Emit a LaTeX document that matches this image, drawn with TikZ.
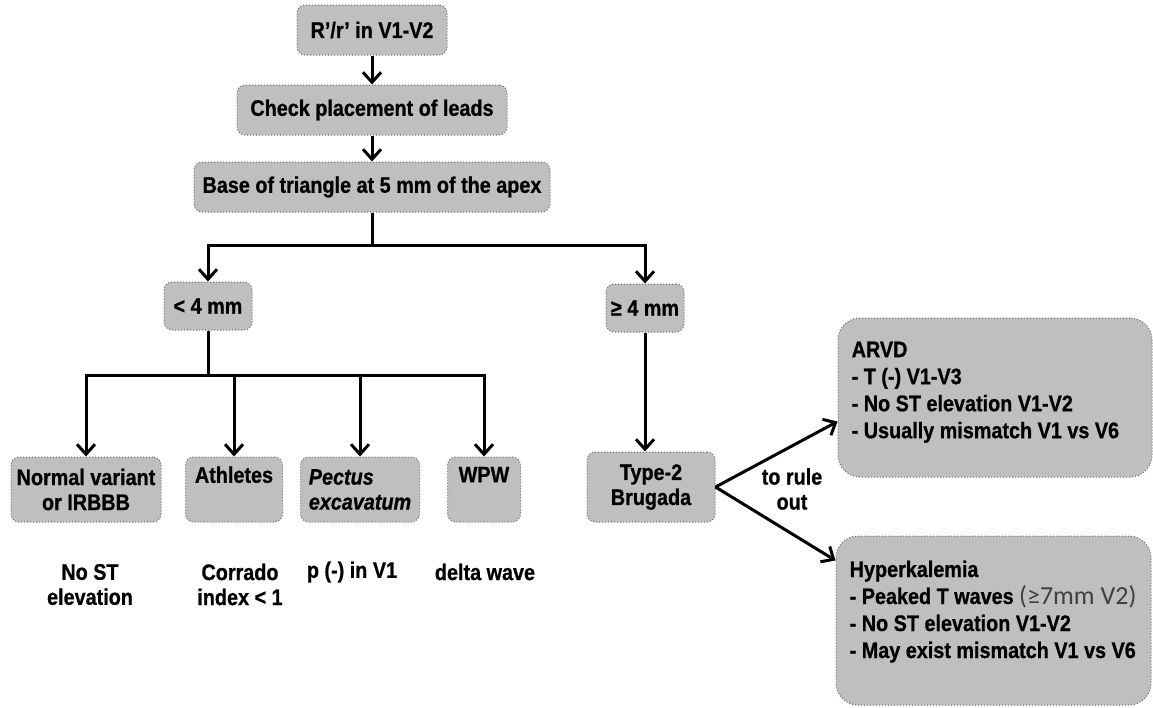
\documentclass[tikz,border=0pt]{standalone}
\usepackage{fontspec}
\setmainfont{Liberation Sans}[FakeStretch=0.88, BoldFeatures={FakeBold=0.8}, BoldItalicFeatures={FakeBold=0.8}]
\newfontfamily\calfont{Carlito}
\usetikzlibrary{arrows.meta}
\tikzset{
  box/.style={draw=black!60, dotted, line width=1pt, fill=black!25, rounded corners=8pt,
    inner sep=0pt, font=\bfseries\fontsize{22.5}{25}\selectfont, align=center, text=black},
  bigbox/.style={box, rounded corners=22pt},
  btext/.style={font=\bfseries\fontsize{22.5}{27}\selectfont, align=left, inner sep=0pt, anchor=north west},
  arr/.style={line width=3pt, solid, -{Straight Barb[length=10pt,width=18pt]}},
  ln/.style={line width=3pt, solid},
  note/.style={font=\bfseries\fontsize{22.5}{25}\selectfont, align=center, inner sep=0pt}
}
\begin{document}
\begin{tikzpicture}[x=1pt,y=-1pt]
\useasboundingbox (0,0) rectangle (1153,707);
\fill[white] (0,0) rectangle (1153,707);

% top chain
\node[box, minimum width=150pt, minimum height=50pt] (top) at (372,30) {R’/r’ in V1-V2};
\node[box, minimum width=270pt, minimum height=50pt] (check) at (372,110) {Check placement of leads};
\node[box, minimum width=356pt, minimum height=50pt] (base) at (372,187) {Base of triangle at 5 mm of the apex};
\draw[arr] (top) -- (check);
\draw[arr] (check) -- (base);

% first split
\coordinate (j) at (372,245);
\node[box, minimum width=88pt, minimum height=48pt] (lt) at (208,306) {< 4 mm};
\node[box, minimum width=78pt, minimum height=48pt] (ge) at (645,308) {≥ 4 mm};
\draw[ln] (base) -- (j);
\draw[arr] (j) -| (lt);
\draw[arr] (j) -| (ge);

% left branch
\coordinate (j2) at (208,375);
\node[box, minimum width=150pt, minimum height=65pt] (normal) at (86,489.5) {Normal variant\\or IRBBB};
\node[box, minimum width=97pt, minimum height=65pt] (ath) at (234,489.5) {Athletes\\\phantom{g}};
\node[box, minimum width=119pt, minimum height=65pt, align=left] (pect) at (360,489.5) {\textit{Pectus}\\\textit{excavatum}};
\node[box, minimum width=73pt, minimum height=65pt] (wpw) at (484,489.5) {WPW\\\phantom{g}};
\draw[ln] (lt) -- (j2);
\draw[arr] (j2) -| (normal);
\draw[arr] (j2) -| (ath);
\draw[arr] (j2) -| (pect);
\draw[arr] (j2) -| (wpw);

\node[note] (n1) at (90,584.5) {No ST\\elevation};
\node[note] (n2) at (240,584.5) {Corrado\\index < 1};
\node[note] (n3) at (352,572) {p (-) in V1};
\node[note] (n4) at (485,572) {delta wave};

% right branch
\node[box, minimum width=128pt, minimum height=70pt] (brug) at (651,487) {Type-2\\Brugada};
\draw[arr] (ge) -- (ge |- brug.north);

\node[bigbox, minimum width=314pt, minimum height=159pt] (arvd) at (995,397.5) {};
\node[btext] (arvdt) at ([xshift=14pt,yshift=-24pt]arvd.north west)
  {ARVD\\- T (-) V1-V3\\- No ST elevation V1-V2\\- Usually mismatch V1 vs V6};
\node[bigbox, minimum width=315pt, minimum height=169pt] (hyper) at (993.5,620.5) {};
\node[btext] (hypert) at ([xshift=14pt,yshift=-25pt]hyper.north west)
  {Hyperkalemia\\- Peaked T waves {\mdseries\calfont\color{black!75}\fontsize{26}{27}\selectfont (≥7mm V2)}\\- No ST elevation V1-V2\\- May exist mismatch V1 vs V6};

\draw[arr] (brug.east) -- ([yshift=-24pt]arvd.west);
\draw[arr] (brug.east) -- ([yshift=60pt]hyper.west);
\node[note] (rule) at (792,489) {to rule\\out};
\end{tikzpicture}
\end{document}
